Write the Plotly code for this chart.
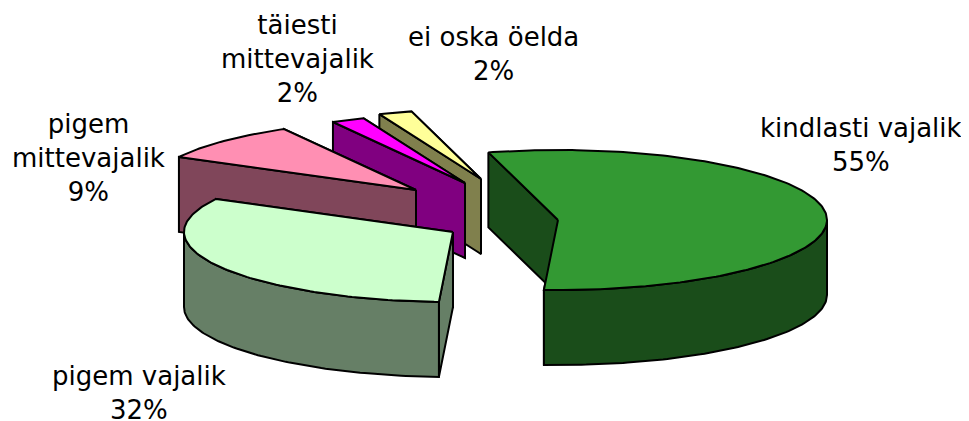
import math
import plotly.graph_objects as go

categories = ["kindlasti vajalik", "pigem vajalik", "pigem mittevajalik", "täiesti mittevajalik", "ei oska öelda"]
values = [55, 32, 9, 2, 2]
label_lines = ["kindlasti vajalik<br>55%", "pigem vajalik<br>32%", "pigem<br>mittevajalik<br>9%",
               "täiesti<br>mittevajalik<br>2%", "ei oska öelda<br>2%"]

# styling / layout, kept apart from the data
top_colors = ["#339933", "#CCFFCC", "#FF8FB3", "#FF00FF", "#FFFF99"]
side_colors = ["#1A4D1A", "#667F66", "#80465A", "#800080", "#80804D"]
apex = [(558, 220), (453, 232), (416, 190), (465, 183), (481, 179)]
label_pos = [(861, 145), (139, 393), (88, 158), (297, 59), (493, 54)]
START = -15.0
RX, RY, DEPTH = 269.0, 70.0, 75.0
FONT = "DejaVu Sans"
FSIZE = 26
PAGE_MARGIN = 8  # the browser's default body margin


def rim(cx, cy, a):
    t = math.radians(a)
    return cx + RX * math.sin(t), cy - RY * math.cos(t)


def poly(fig, pts, color):
    xs = [p[0] for p in pts] + [pts[0][0]]
    ys = [p[1] for p in pts] + [pts[0][1]]
    fig.add_trace(go.Scatter(x=xs, y=ys, mode="lines", fill="toself", fillcolor=color,
                             line=dict(color="black", width=2, shape="linear"),
                             hoverinfo="skip", showlegend=False))


total = sum(values)
spans = []
a = START
for v in values:
    spans.append((a, a + v / total * 360))
    a += v / total * 360

fig = go.Figure()
for i in [4, 3, 2, 1, 0]:
    a0, a1 = spans[i]
    cx, cy = apex[i]
    for ang in (a1, a0):  # hidden cut face first, visible one over it
        x, y = rim(cx, cy, ang)
        poly(fig, [(cx, cy), (x, y), (x, y + DEPTH), (cx, cy + DEPTH)], side_colors[i])
    lo, hi = max(a0, 90), min(a1, 270)
    if hi > lo:
        n = max(2, int(hi - lo))
        arc = [rim(cx, cy, lo + (hi - lo) * k / n) for k in range(n + 1)]
        poly(fig, arc + [(x, y + DEPTH) for x, y in reversed(arc)], side_colors[i])
    n = max(2, int(a1 - a0))
    poly(fig, [(cx, cy)] + [rim(cx, cy, a0 + (a1 - a0) * k / n) for k in range(n + 1)], top_colors[i])

for text, (x, y) in zip(label_lines, label_pos):
    fig.add_annotation(x=x, y=y, text=text, showarrow=False, align="center",
                       xanchor="center", yanchor="middle",
                       font=dict(family=FONT, size=FSIZE, color="black"))

fig.update_layout(width=969, height=421, margin=dict(l=0, r=0, t=0, b=0),
                  paper_bgcolor="white", plot_bgcolor="white",
                  xaxis=dict(range=[PAGE_MARGIN, 969 + PAGE_MARGIN], visible=False, fixedrange=True),
                  yaxis=dict(range=[421 + PAGE_MARGIN, PAGE_MARGIN], visible=False, fixedrange=True))
fig.write_html("out.html", config={"displayModeBar": False})
